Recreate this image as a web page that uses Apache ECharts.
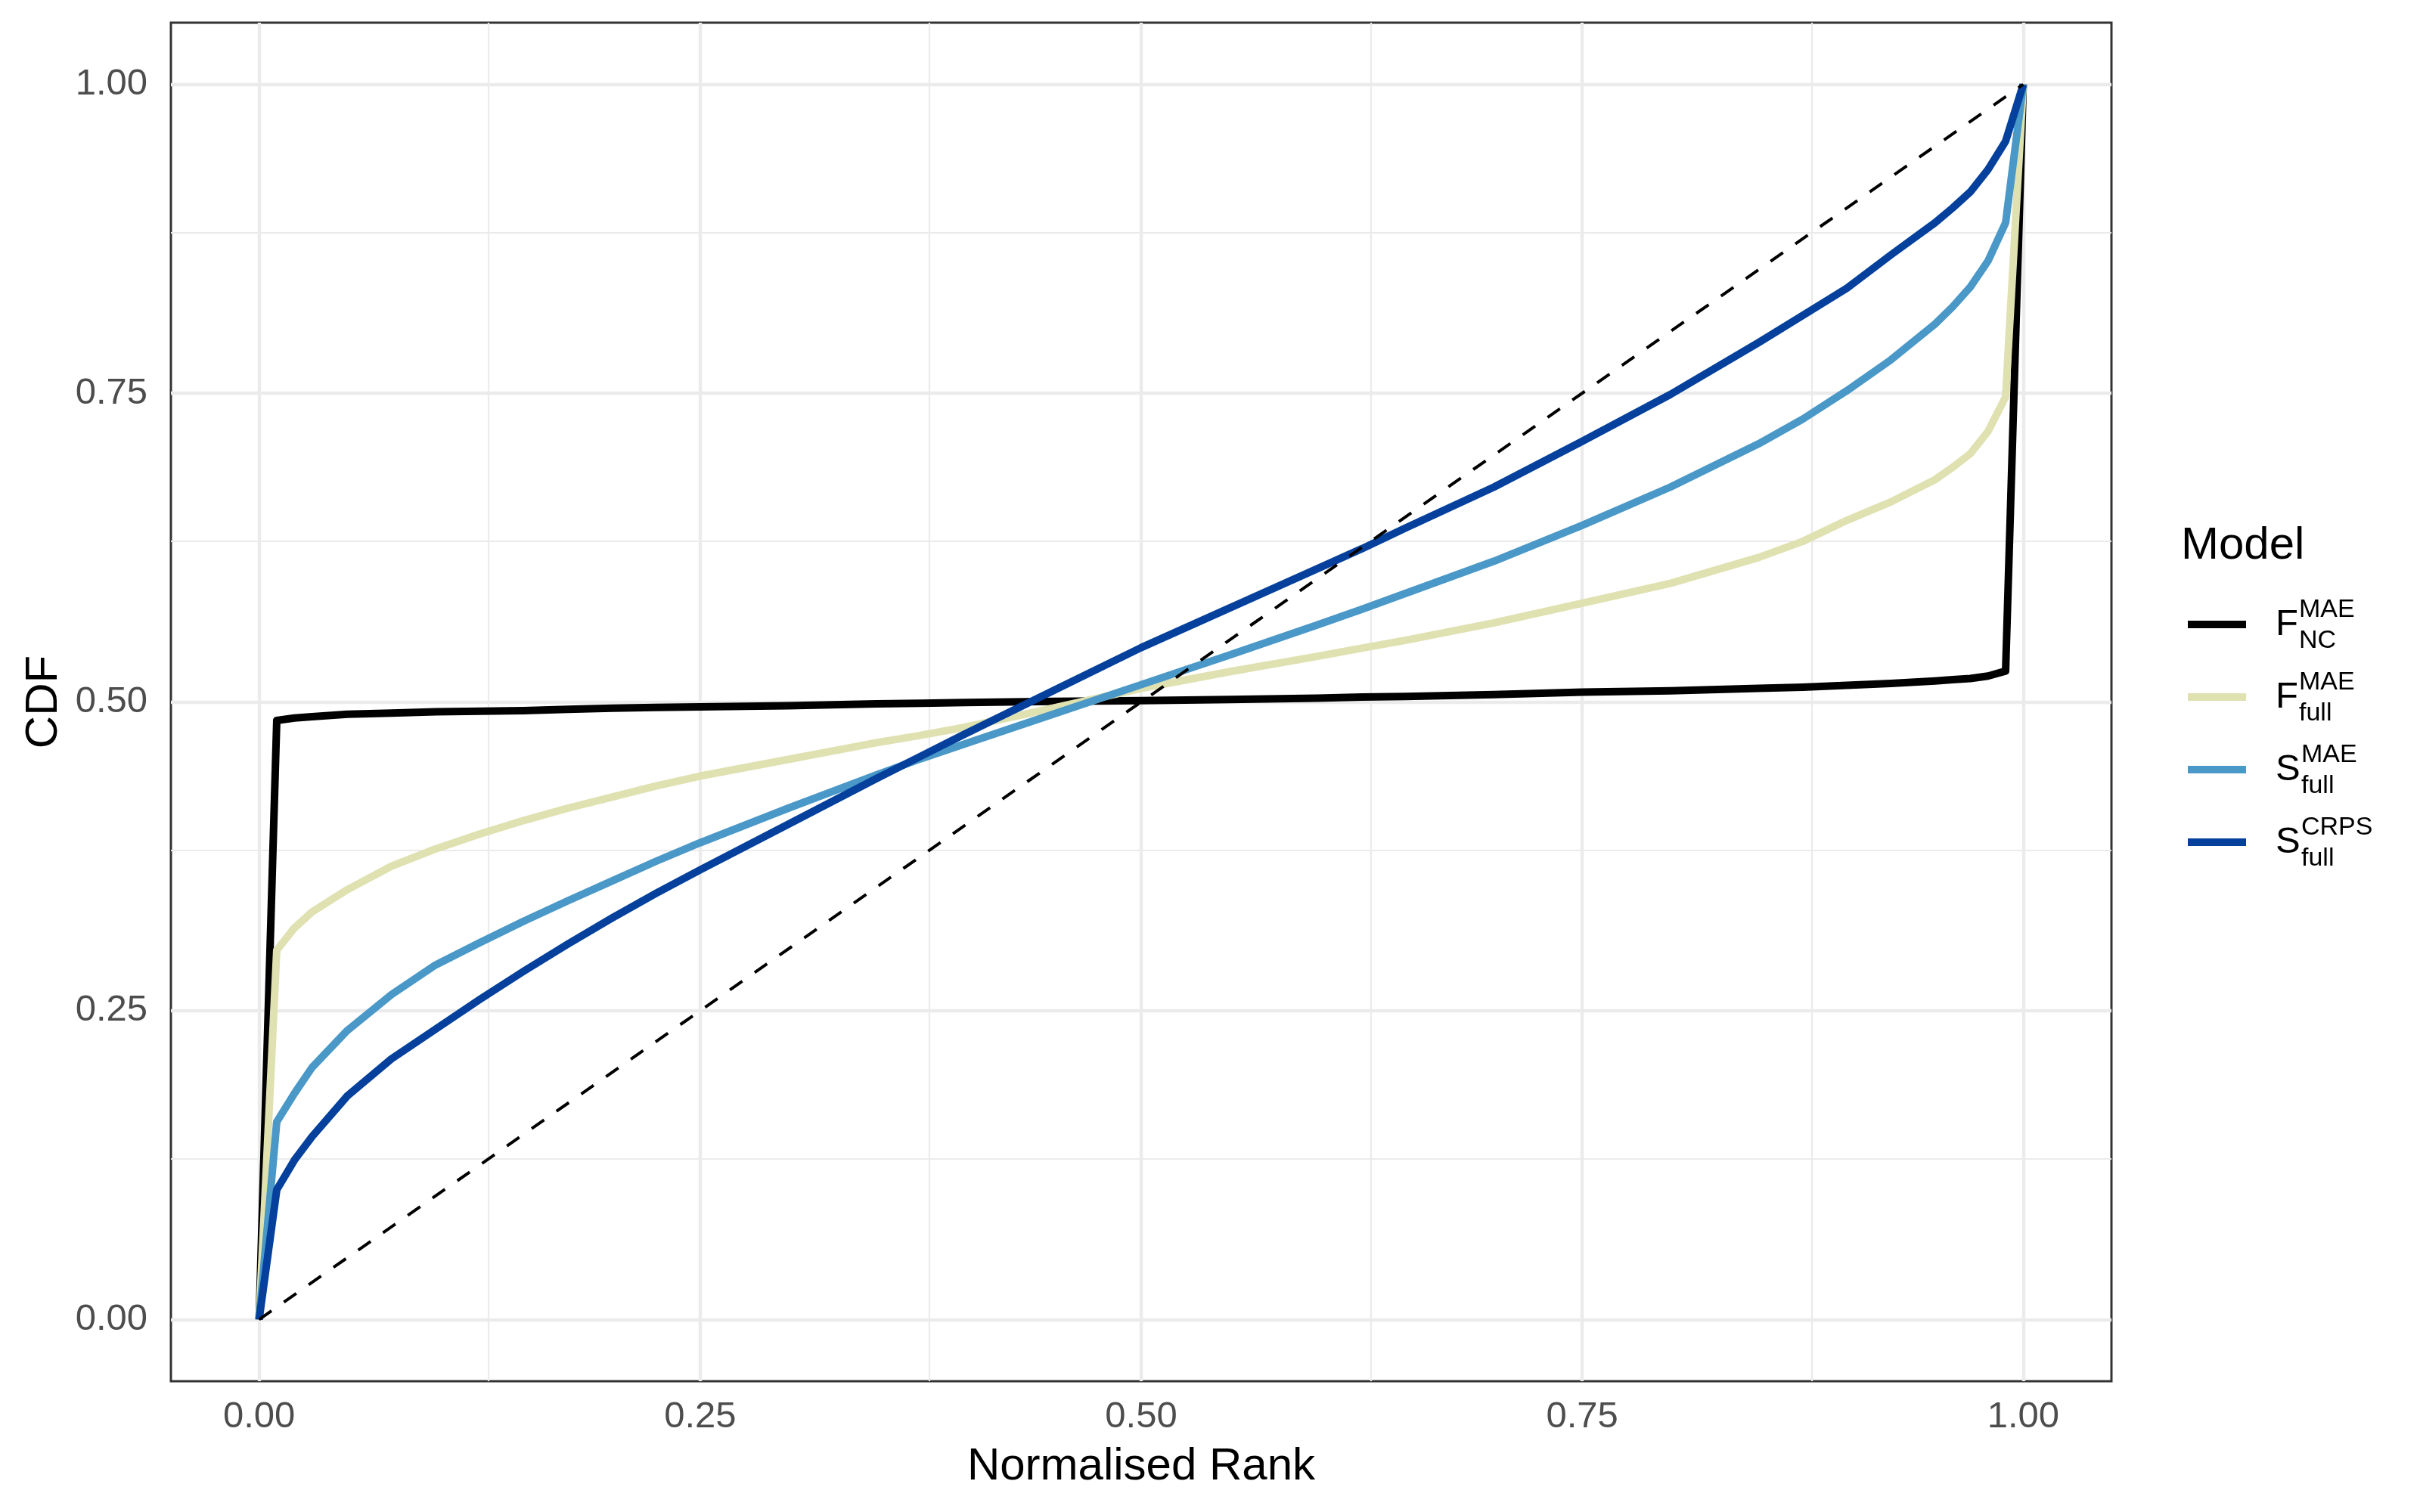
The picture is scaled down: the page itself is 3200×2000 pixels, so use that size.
<!DOCTYPE html>
<html>
<head>
<meta charset="utf-8">
<script src="https://cdn.jsdelivr.net/npm/echarts@6/dist/echarts.min.js"></script>
<style>
  html, body { margin: 0; padding: 0; background: #fff; }
  #chart { width: 3200px; height: 2000px; }
</style>
</head>
<body>
<div id="chart"></div>
<script>
// normalised rank (x) and the CDF of each model
var rank = [0, 0.01, 0.02, 0.03, 0.05, 0.075, 0.1, 0.125, 0.15, 0.175, 0.2, 0.225, 0.25, 0.3, 0.35, 0.375, 0.4, 0.45, 0.5,
    0.55, 0.6, 0.625, 0.65, 0.7, 0.75, 0.8, 0.85, 0.875, 0.9, 0.925, 0.95, 0.96, 0.97, 0.98, 0.99, 1];
var fNcMae = [0, 0.485, 0.487, 0.488, 0.490, 0.491, 0.492, 0.4925, 0.493, 0.494, 0.495, 0.4955, 0.496, 0.497, 0.4985, 0.499, 0.4995, 0.5005, 0.501,
    0.502, 0.503, 0.504, 0.5045, 0.506, 0.508, 0.509, 0.511, 0.512, 0.5135, 0.515, 0.517, 0.518, 0.519, 0.521, 0.525, 1];
var fFullMae = [0, 0.299, 0.317, 0.330, 0.348, 0.367, 0.381, 0.393, 0.404, 0.414, 0.423, 0.432, 0.440, 0.4535, 0.467, 0.473, 0.4795, 0.495, 0.511,
    0.5245, 0.537, 0.5435, 0.550, 0.564, 0.580, 0.596, 0.617, 0.630, 0.647, 0.662, 0.680, 0.690, 0.701, 0.719, 0.747, 1];
var sFullMae = [0, 0.160, 0.183, 0.204, 0.234, 0.263, 0.287, 0.305, 0.3225, 0.339, 0.355, 0.371, 0.386, 0.414, 0.441, 0.454, 0.466, 0.490, 0.514,
    0.538, 0.5625, 0.575, 0.588, 0.614, 0.643, 0.674, 0.709, 0.729, 0.752, 0.777, 0.806, 0.820, 0.836, 0.857, 0.888, 1];
var sFullCrps = [0, 0.105, 0.129, 0.148, 0.181, 0.211, 0.235, 0.259, 0.282, 0.304, 0.325, 0.345, 0.364, 0.401, 0.438, 0.456, 0.474, 0.509, 0.544,
    0.576, 0.608, 0.624, 0.641, 0.674, 0.711, 0.749, 0.791, 0.813, 0.835, 0.862, 0.888, 0.900, 0.913, 0.931, 0.954, 1];

// reference diagonal
var diagX = [0, 1];
var diagY = [0, 1];

var majorBreaks = [0, 0.25, 0.5, 0.75, 1];
var minorBreaks = [0.125, 0.375, 0.625, 0.875];

var modelNames = ['F_NC^MAE', 'F_full^MAE', 'S_full^MAE', 'S_full^CRPS'];
var modelMain = ['F', 'F', 'S', 'S'];
var modelSup = ['MAE', 'MAE', 'MAE', 'CRPS'];
var modelSub = ['NC', 'full', 'full', 'full'];
var modelColors = ['#000000', '#DFE1B1', '#4A98C8', '#04409C'];
var modelValues = [fNcMae, fFullMae, sFullMae, sFullCrps];

var font = '"Liberation Sans", Arial, sans-serif';

function pairs(xs, ys) {
    return xs.map(function (x, i) { return [x, ys[i]]; });
}

// panel grid lines (major + minor), both directions
var gridLines = [];
majorBreaks.forEach(function (v) {
    gridLines.push({xAxis: v, lineStyle: {width: 4.4}});
    gridLines.push({yAxis: v, lineStyle: {width: 4.4}});
});
minorBreaks.forEach(function (v) {
    gridLines.push({xAxis: v, lineStyle: {width: 2.2}});
    gridLines.push({yAxis: v, lineStyle: {width: 2.2}});
});

var series = [{
    name: 'grid',
    type: 'line',
    data: [],
    silent: true,
    markLine: {
        silent: true,
        z: 1,
        symbol: ['none', 'none'],
        label: {show: false},
        lineStyle: {color: '#EBEBEB', type: 'solid'},
        emphasis: {disabled: true},
        animation: false,
        data: gridLines
    }
}];
modelNames.forEach(function (name, i) {
    series.push({
        name: name,
        type: 'line',
        data: pairs(rank, modelValues[i]),
        showSymbol: false,
        symbol: 'none',
        z: 3 + i,
        lineStyle: {color: modelColors[i], width: 10, join: 'round', cap: 'butt'},
        itemStyle: {color: modelColors[i]},
        emphasis: {disabled: true}
    });
});
series.push({
    name: 'diagonal',
    type: 'line',
    data: pairs(diagX, diagY),
    showSymbol: false,
    symbol: 'none',
    z: 10,
    lineStyle: {color: '#000000', width: 4, type: [20, 20]},
    emphasis: {disabled: true}
});

// legend text (F/S with super- and subscripts)
var legendCenters = [826, 922, 1018, 1114];
var graphics = [{
    type: 'text',
    style: {text: 'Model', x: 2884, y: 722, font: '60px ' + font, fill: '#000', verticalAlign: 'middle'}
}];
modelMain.forEach(function (m, i) {
    var c = legendCenters[i];
    var subX = m === 'F' ? 3040 : 3043;
    graphics.push({type: 'text', style: {text: m, x: 3009, y: c, font: '49px ' + font, fill: '#000', verticalAlign: 'middle'}});
    graphics.push({type: 'text', style: {text: modelSup[i], x: subX, y: c - 19, font: '34px ' + font, fill: '#000', verticalAlign: 'middle'}});
    graphics.push({type: 'text', style: {text: modelSub[i], x: subX, y: c + 22, font: '34px ' + font, fill: '#000', verticalAlign: 'middle'}});
});

var chart = echarts.init(document.getElementById('chart'), null, {renderer: 'canvas'});
chart.setOption({
    animation: false,
    backgroundColor: '#ffffff',
    textStyle: {fontFamily: font},
    grid: {
        left: 226, top: 30, width: 2566, height: 1797,
        show: true, borderColor: '#333333', borderWidth: 3, backgroundColor: '#ffffff',
        containLabel: false
    },
    legend: {
        data: modelNames,
        orient: 'vertical',
        left: 2893,
        top: 821,
        itemWidth: 77,
        itemHeight: 10,
        itemGap: 86,
        icon: 'rect',
        padding: 0,
        selectedMode: false,
        formatter: function () { return ''; },
        textStyle: {fontSize: 10, lineHeight: 10}
    },
    xAxis: {
        type: 'value',
        min: -0.05,
        max: 1.05,
        name: 'Normalised Rank',
        nameLocation: 'middle',
        nameGap: 83,
        nameTextStyle: {fontSize: 60, color: '#000000', fontFamily: font},
        axisLine: {show: false},
        axisTick: {show: true, customValues: majorBreaks, length: 17, lineStyle: {color: '#333333', width: 3}},
        axisLabel: {
            customValues: majorBreaks, margin: 23, fontSize: 49, color: '#4D4D4D', fontFamily: font,
            formatter: function (v) { return v.toFixed(2); }
        },
        splitLine: {show: false},
        minorSplitLine: {show: false}
    },
    yAxis: {
        type: 'value',
        min: -0.05,
        max: 1.05,
        name: 'CDF',
        nameLocation: 'middle',
        nameGap: 135,
        nameRotate: 90,
        nameTextStyle: {fontSize: 60, color: '#000000', fontFamily: font},
        axisLine: {show: false},
        axisTick: {show: true, customValues: majorBreaks, length: 17, lineStyle: {color: '#333333', width: 3}},
        axisLabel: {
            customValues: majorBreaks, margin: 31, fontSize: 49, color: '#4D4D4D', fontFamily: font,
            formatter: function (v) { return v.toFixed(2); }
        },
        splitLine: {show: false},
        minorSplitLine: {show: false}
    },
    graphic: graphics,
    series: series
});

window.onresize = function () {
    chart.resize();
};
</script>
</body>
</html>
